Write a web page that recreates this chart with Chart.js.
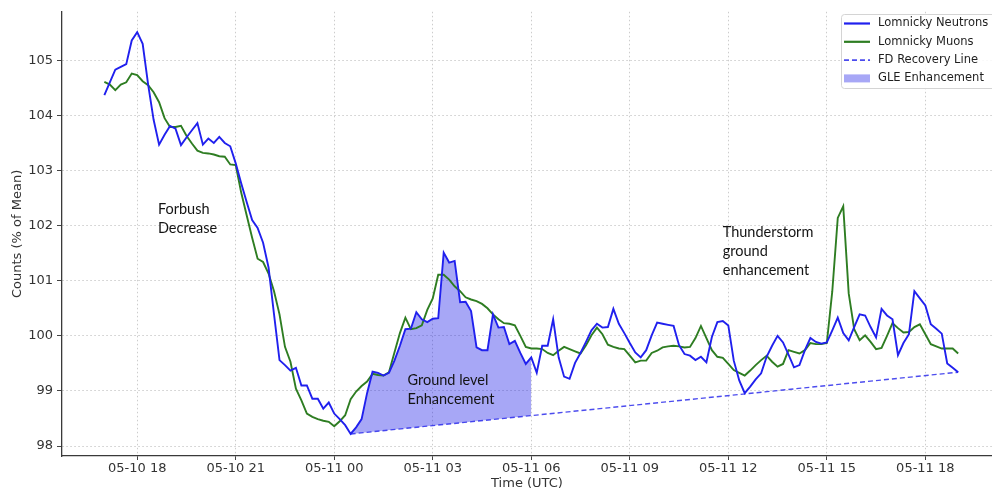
<!DOCTYPE html>
<html>
<head>
<meta charset="utf-8">
<script src="https://cdn.jsdelivr.net/npm/chart.js@4.4.1/dist/chart.umd.min.js"></script>
<style>
html, body { margin: 0; padding: 0; background: #fff; }
</style>
</head>
<body>
<canvas id="chart" width="992" height="495"></canvas>
<script>
// hours relative to 05-11 00:00 UTC, one sample every 10 minutes starting 05-10 17:00
var startHour = -7;
var stepHours = 1 / 6;

var neutrons = [
    104.37, 104.60, 104.83, 104.88, 104.93, 105.36, 105.51, 105.30, 104.56, 103.92,
    103.47, 103.65, 103.81, 103.76, 103.46, 103.60, 103.73, 103.86, 103.47, 103.58,
    103.50, 103.61, 103.50, 103.44, 103.13, 102.77, 102.43, 102.10, 101.96, 101.69,
    101.24, 100.39, 99.56, 99.47, 99.37, 99.42, 99.10, 99.10, 98.86, 98.86,
    98.68, 98.79, 98.59, 98.49, 98.38, 98.22, 98.34, 98.49, 98.96, 99.35,
    99.33, 99.28, 99.33, 99.55, 99.82, 100.12, 100.13, 100.43, 100.30, 100.25,
    100.31, 100.32, 101.51, 101.33, 101.36, 100.61, 100.62, 100.45, 99.79, 99.74,
    99.74, 100.39, 100.15, 100.16, 99.85, 99.91, 99.69, 99.49, 99.61, 99.33,
    99.82, 99.82, 100.30, 99.61, 99.26, 99.22, 99.51, 99.69, 99.89, 100.10,
    100.22, 100.15, 100.16, 100.49, 100.22, 100.05, 99.87, 99.70, 99.61, 99.74,
    100.01, 100.24, 100.22, 100.20, 100.18, 99.83, 99.67, 99.64, 99.56, 99.62,
    99.52, 99.98, 100.25, 100.27, 100.19, 99.55, 99.19, 98.96, 99.08, 99.21,
    99.32, 99.62, 99.82, 100.00, 99.88, 99.66, 99.43, 99.47, 99.74, 99.96,
    99.89, 99.86, 99.88, 100.10, 100.33, 100.05, 99.92, 100.16, 100.39, 100.37,
    100.16, 99.97, 100.49, 100.37, 100.30, 99.65, 99.87, 100.03, 100.81, 100.68,
    100.55, 100.21, 100.13, 100.04, 99.50, 99.42, 99.34
];

var muons = [
    104.61, 104.56, 104.46, 104.56, 104.60, 104.76, 104.73, 104.62, 104.55, 104.42,
    104.24, 103.95, 103.79, 103.79, 103.81, 103.63, 103.49, 103.36, 103.32, 103.31,
    103.29, 103.26, 103.25, 103.11, 103.10, 102.60, 102.19, 101.78, 101.40, 101.34,
    101.13, 100.81, 100.39, 99.80, 99.53, 99.04, 98.83, 98.59, 98.53, 98.49,
    98.46, 98.44, 98.36, 98.45, 98.56, 98.85, 98.99, 99.09, 99.17, 99.31,
    99.29, 99.28, 99.34, 99.70, 100.05, 100.33, 100.12, 100.14, 100.19, 100.47,
    100.68, 101.11, 101.11, 101.02, 100.90, 100.81, 100.70, 100.66, 100.63, 100.58,
    100.50, 100.39, 100.30, 100.23, 100.22, 100.19, 100.00, 99.80, 99.77, 99.77,
    99.76, 99.69, 99.65, 99.73, 99.80, 99.76, 99.72, 99.68, 99.83, 100.01,
    100.15, 100.03, 99.84, 99.80, 99.77, 99.76, 99.64, 99.52, 99.55, 99.55,
    99.69, 99.73, 99.79, 99.81, 99.82, 99.81, 99.79, 99.80, 99.96, 100.18,
    99.96, 99.74, 99.62, 99.60, 99.49, 99.38, 99.33, 99.28, 99.37, 99.47,
    99.56, 99.64, 99.53, 99.44, 99.49, 99.74, 99.71, 99.68, 99.74, 99.87,
    99.85, 99.85, 99.87, 100.81, 102.14, 102.35, 100.77, 100.12, 99.92, 100.01,
    99.89, 99.76, 99.78, 100.00, 100.23, 100.14, 100.06, 100.07, 100.16, 100.21,
    100.03, 99.85, 99.81, 99.77, 99.77, 99.77, 99.68
];

// FD recovery line end points (hours, % of mean)
var fdTimes = [0.5, 19];
var fdValues = [98.22, 99.34];

// GLE window (hours)
var gleFrom = 0.5;
var gleTo = 6;

var xTickValues = [-6, -3, 0, 3, 6, 9, 12, 15, 18];
var xTickLabels = ['05-10 18', '05-10 21', '05-11 00', '05-11 03', '05-11 06',
                   '05-11 09', '05-11 12', '05-11 15', '05-11 18'];
var yTickValues = [98, 99, 100, 101, 102, 103, 104, 105];

var notes = [
    {lines: ['Forbush', 'Decrease'], x: -5.37, y: 102.30},
    {lines: ['Ground level', 'Enhancement'], x: 2.23, y: 99.20},
    {lines: ['Thunderstorm', 'ground', 'enhancement'], x: 11.83, y: 101.88}
];


function toPoints(values) {
    return values.map(function(v, i) {
        return {x: startHour + i * stepHours, y: v};
    });
}

var neutronPoints = toPoints(neutrons);
var muonPoints = toPoints(muons);
var glePoints = neutronPoints.filter(function(p) {
    return p.x >= gleFrom - 1e-6 && p.x <= gleTo + 1e-6;
});
var fdPoints = fdTimes.map(function(t, i) { return {x: t, y: fdValues[i]}; });

var tickFont = {family: 'DejaVu Sans', size: 13};
var gleColor = 'rgba(10, 10, 230, 0.36)';

// text notes drawn at data positions
var notesPlugin = {
    id: 'notes',
    afterDatasetsDraw: function(chart) {
        var ctx = chart.ctx;
        var xs = chart.scales.x, ys = chart.scales.y;
        ctx.save();
        ctx.font = '14.5px Lato';
        ctx.fillStyle = '#141414';
        ctx.textBaseline = 'middle';
        ctx.textAlign = 'left';
        notes.forEach(function(n) {
            var px = xs.getPixelForValue(n.x);
            var py = ys.getPixelForValue(n.y);
            n.lines.forEach(function(line, k) {
                ctx.fillText(line, px, py + k * 19.2);
            });
        });
        ctx.restore();
    }
};

// matplotlib-like framed legend in the upper right
var legendPlugin = {
    id: 'boxLegend',
    afterDraw: function(chart) {
        var ctx = chart.ctx;
        var area = chart.chartArea;
        var left = area.right - 151, top = 14, rowH = 18.3;
        ctx.save();
        ctx.fillStyle = 'rgba(255,255,255,0.85)';
        ctx.strokeStyle = '#d4d4d4';
        ctx.lineWidth = 1;
        ctx.beginPath();
        ctx.roundRect(left + 0.5, top + 0.5, 160, 74, 3);
        ctx.fill();
        ctx.stroke();
        ctx.font = '11.5px "DejaVu Sans"';
        ctx.textBaseline = 'middle';
        chart.data.datasets.forEach(function(ds, i) {
            var cy = top + 9.5 + i * rowH;
            var x0 = left + 3, x1 = left + 29;
            if (ds.fill) {
                ctx.fillStyle = ds.backgroundColor;
                ctx.fillRect(x0, cy - 4, x1 - x0, 8);
            } else {
                ctx.strokeStyle = ds.borderColor;
                ctx.lineWidth = ds.borderWidth + 0.3;
                ctx.setLineDash(ds.borderDash || []);
                ctx.beginPath();
                ctx.moveTo(x0, cy);
                ctx.lineTo(x1, cy);
                ctx.stroke();
                ctx.setLineDash([]);
            }
            ctx.fillStyle = '#1e1e1e';
            ctx.fillText(ds.label, left + 37, cy);
        });
        ctx.restore();
    }
};

var chart = new Chart(document.getElementById('chart'), {
    type: 'line',
    data: {
        datasets: [
            {
                label: 'Lomnicky Neutrons',
                data: neutronPoints,
                borderColor: '#2020ee',
                borderWidth: 1.9,
                pointRadius: 0,
                fill: false,
                order: 0
            },
            {
                label: 'Lomnicky Muons',
                data: muonPoints,
                borderColor: '#2e7d22',
                borderWidth: 1.9,
                pointRadius: 0,
                fill: false,
                order: 1
            },
            {
                label: 'FD Recovery Line',
                data: fdPoints,
                borderColor: 'rgba(45, 45, 235, 0.85)',
                borderDash: [5, 3],
                borderWidth: 1.4,
                pointRadius: 0,
                fill: false,
                order: 2
            },
            {
                label: 'GLE Enhancement',
                data: glePoints,
                borderWidth: 0,
                borderColor: 'rgba(0,0,0,0)',
                backgroundColor: gleColor,
                pointRadius: 0,
                fill: {target: 2, above: gleColor, below: gleColor},
                order: 3
            }
        ]
    },
    options: {
        responsive: false,
        animation: false,
        layout: {padding: {top: 8, left: 0, right: 0, bottom: 0}},
        plugins: {
            legend: {display: false},
            tooltip: {enabled: false}
        },
        scales: {
            x: {
                type: 'linear',
                min: -8.29,
                max: 20.03,
                afterBuildTicks: function(scale) {
                    scale.ticks = xTickValues.map(function(v) { return {value: v}; });
                },
                afterFit: function(scale) { scale.height = 39; },
                ticks: {
                    callback: function(value, index) { return xTickLabels[index]; },
                    font: tickFont,
                    color: '#333',
                    padding: 1,
                    maxRotation: 0,
                    autoSkip: false
                },
                grid: {
                    color: '#c6c6c6',
                    lineWidth: 0.9,
                    tickLength: 4,
                    tickColor: '#444',
                    tickWidth: 1,
                    tickBorderDash: []
                },
                border: {display: true, color: '#3a3a3a', width: 1.3, dash: [1.5, 2.5]},
                title: {
                    display: true,
                    text: 'Time (UTC)',
                    font: tickFont,
                    color: '#333',
                    padding: {top: 0, bottom: 4}
                }
            },
            y: {
                min: 97.82,
                max: 105.88,
                afterBuildTicks: function(scale) {
                    scale.ticks = yTickValues.map(function(v) { return {value: v}; });
                },
                afterFit: function(scale) { scale.width = 62; },
                ticks: {
                    font: tickFont,
                    color: '#333',
                    padding: 4
                },
                grid: {
                    color: '#c6c6c6',
                    lineWidth: 0.9,
                    tickLength: 5,
                    tickColor: '#444',
                    tickWidth: 1,
                    tickBorderDash: []
                },
                border: {display: true, color: '#3a3a3a', width: 1.3, dash: [1.5, 2.5]},
                title: {
                    display: true,
                    text: 'Counts (% of Mean)',
                    font: tickFont,
                    color: '#333',
                    padding: {top: 10, bottom: 0}
                }
            }
        }
    },
    plugins: [notesPlugin, legendPlugin]
});
</script>
</body>
</html>
